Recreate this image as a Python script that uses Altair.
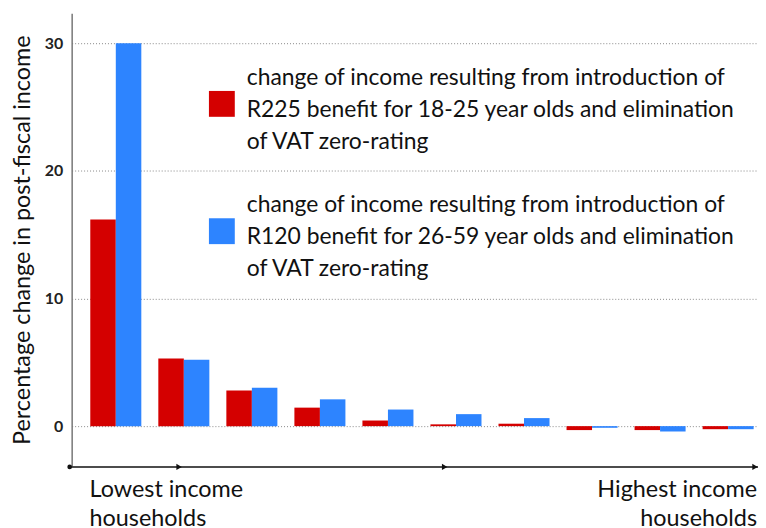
import altair as alt
import pandas as pd

# ---- data ----
groups = ["1", "2", "3", "4", "5", "6", "7", "8", "9", "10"]
series = ["R225 benefit for 18-25 year olds", "R120 benefit for 26-59 year olds"]
red_vals = [16.2, 5.3, 2.8, 1.45, 0.44, 0.14, 0.19, -0.31, -0.31, -0.24]
blue_vals = [30.0, 5.2, 3.0, 2.1, 1.3, 0.94, 0.63, -0.13, -0.42, -0.24]
y_ticks = [0, 10, 20, 30]
legend_texts = [
    "change of income resulting from introduction of\nR225 benefit for 18-25 year olds and elimination\nof VAT zero-rating",
    "change of income resulting from introduction of\nR120 benefit for 26-59 year olds and elimination\nof VAT zero-rating",
]
colors = ["#d40000", "#2d84ff"]
low_label = "Lowest income\nhouseholds"
high_label = "Highest income\nhouseholds"
y_title = "Percentage change in post-fiscal income"

FONT = "Lato"
W, H = 690, 455

df = pd.DataFrame({
    "group": groups * 2,
    "series": [series[0]] * len(groups) + [series[1]] * len(groups),
    "value": red_vals + blue_vals,
})
color_scale = alt.Scale(domain=series, range=colors)

bars = alt.Chart(df).mark_bar().encode(
    x=alt.X("group:N", sort=groups, axis=None,
            scale=alt.Scale(paddingInner=0.25, paddingOuter=0.169, align=0.81)),
    xOffset=alt.XOffset("series:N", sort=series,
                        scale=alt.Scale(paddingInner=0, paddingOuter=0)),
    y=alt.Y("value:Q",
            scale=alt.Scale(domain=[-3.12, 32.35], nice=False, zero=False),
            axis=alt.Axis(values=y_ticks, title=y_title, grid=True,
                          gridDash=[1, 2], gridColor="#888", gridWidth=1,
                          domainColor="#777", domainWidth=1.5, ticks=False,
                          labelFontSize=16, labelFont=FONT, labelColor="#222",
                          labelFontWeight="bold", labelPadding=9,
                          titleFont=FONT, titleFontSize=23.5, titleColor="#111",
                          titleFontWeight="normal", titlePadding=10)),
    y2=alt.datum(0),
    color=alt.Color("series:N", scale=color_scale, legend=None),
)

one = pd.DataFrame({"k": [0]})

x_line = alt.Chart(one).mark_rule(color="#111", strokeWidth=1.5).encode(
    x=alt.value(-2), x2=alt.value(W), y=alt.value(H + 1))
dot = alt.Chart(one).mark_circle(color="#111", size=22, opacity=1).encode(
    x=alt.value(-2), y=alt.value(H + 1))
arrows = [
    alt.Chart(one).mark_point(shape="triangle-right", filled=True, color="#111",
                              size=40, opacity=1).encode(x=alt.value(px), y=alt.value(H + 1))
    for px in [108, 375, 687]
]

legend_layers = []
for i, (txt, ycen) in enumerate(zip(legend_texts, [96, 224])):
    ldf = pd.DataFrame({"series": [series[i]]})
    sq = alt.Chart(ldf).mark_square(size=676, opacity=1).encode(
        x=alt.value(151), y=alt.value(ycen - 5),
        color=alt.Color("series:N", scale=color_scale, legend=None))
    tx = alt.Chart(one).mark_text(align="left", baseline="middle", lineBreak="\n",
                                  lineHeight=32, font=FONT, fontSize=23,
                                  color="#111").encode(
        x=alt.value(176), y=alt.value(ycen - 31), text=alt.value(txt))
    legend_layers += [sq, tx]

low = alt.Chart(one).mark_text(align="left", baseline="alphabetic", lineBreak="\n",
                               lineHeight=29, font=FONT, fontSize=23.5,
                               color="#111").encode(
    x=alt.value(18), y=alt.value(H + 31), text=alt.value(low_label))
high = alt.Chart(one).mark_text(align="right", baseline="alphabetic", lineBreak="\n",
                                lineHeight=29, font=FONT, fontSize=23.5,
                                color="#111").encode(
    x=alt.value(689), y=alt.value(H + 31), text=alt.value(high_label))

chart = alt.layer(bars, x_line, dot, *arrows, *legend_layers, low, high).properties(
    width=W, height=H,
    autosize=alt.AutoSizeParams(type="none"),
    padding={"left": 64, "top": 4, "right": 0, "bottom": 61},
).configure_view(stroke=None)

chart.save("out.html", embed_options={"renderer": "svg", "actions": False})
